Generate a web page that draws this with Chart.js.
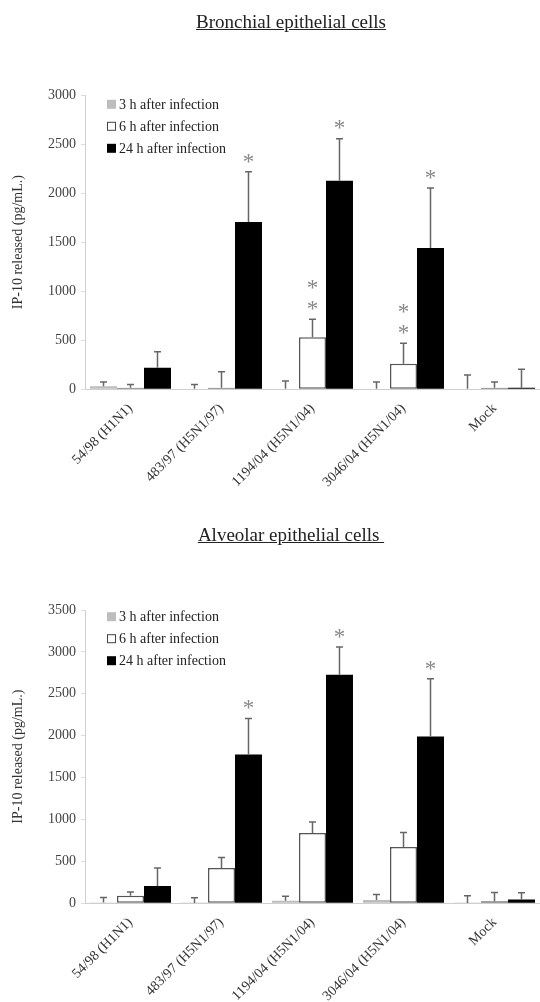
<!DOCTYPE html>
<html><head><meta charset="utf-8">
<script src="https://cdn.jsdelivr.net/npm/chart.js@4.4.1/dist/chart.umd.min.js"></script>
<style>
html,body{margin:0;padding:0;background:#fff;width:540px;height:1002px;overflow:hidden;}
.wrap{position:absolute;left:0;width:540px;height:501px;}
.ttl{position:absolute;font-family:"Liberation Serif",serif;font-size:19px;color:#222;text-decoration:underline;white-space:pre;transform:translateX(-50%);line-height:1;}
</style></head><body>
<div class="wrap" style="top:0"><canvas id="c1" width="540" height="501"></canvas></div>
<div class="wrap" style="top:501px"><canvas id="c2" width="540" height="501"></canvas></div>
<div class="ttl" style="left:291px;top:12px">Bronchial epithelial cells</div>
<div class="ttl" style="left:291px;top:525px">Alveolar epithelial cells </div>
<script>
// ---- data ----
const categories = ['54/98 (H1N1)', '483/97 (H5N1/97)', '1194/04 (H5N1/04)', '3046/04 (H5N1/04)', 'Mock'];
const seriesLabels = ['3 h after infection', '6 h after infection', '24 h after infection'];
const yTitle = 'IP-10 released (pg/mL.)';

// Bronchial epithelial cells
const bronchial3h = [30, 5, 5, 5, 5];
const bronchial3hErr = [45, 45, 80, 70, 140];
const bronchial6h = [15, 15, 530, 260, 15];
const bronchial6hErr = [35, 165, 185, 210, 60];
const bronchial24h = [220, 1705, 2125, 1440, 15];
const bronchial24hErr = [163, 513, 430, 613, 190];
const bronchialStars3h = [0, 0, 0, 0, 0];
const bronchialStars6h = [0, 0, 2, 2, 0];
const bronchialStars24h = [0, 1, 1, 1, 0];
const bronchialTicksMax = 3000;

// Alveolar epithelial cells
const alveolar3h = [10, 5, 30, 40, 5];
const alveolar3hErr = [60, 60, 55, 65, 85];
const alveolar6h = [90, 422, 840, 672, 25];
const alveolar6hErr = [45, 125, 130, 172, 105];
const alveolar24h = [207, 1775, 2727, 1990, 45];
const alveolar24hErr = [213, 430, 330, 690, 80];
const alveolarStars3h = [0, 0, 0, 0, 0];
const alveolarStars6h = [0, 0, 0, 0, 0];
const alveolarStars24h = [0, 1, 1, 1, 0];
const alveolarTicksMax = 3500;

const tickStep = 500;
const serif = '"Liberation Serif", "Times New Roman", serif';

// ---- plugins ----
const errorBars = {
  id: 'errorBars',
  afterDatasetsDraw(chart) {
    const ctx = chart.ctx, y = chart.scales.y;
    chart.data.datasets.forEach((ds, i) => {
      const meta = chart.getDatasetMeta(i);
      meta.data.forEach((bar, j) => {
        const v = ds.data[j], e = ds.errors[j];
        const yTop = y.getPixelForValue(v + e);
        const yBar = y.getPixelForValue(v);
        ctx.save();
        ctx.strokeStyle = '#666';
        ctx.lineWidth = 1.5;
        ctx.beginPath();
        ctx.moveTo(bar.x, yBar);
        ctx.lineTo(bar.x, yTop);
        ctx.moveTo(bar.x - 3.5, yTop);
        ctx.lineTo(bar.x + 3.5, yTop);
        ctx.stroke();
        const n = ds.stars[j];
        ctx.fillStyle = '#888';
        ctx.font = '23px ' + serif;
        ctx.textAlign = 'center';
        ctx.textBaseline = 'alphabetic';
        for (let k = 0; k < n; k++) {
          const cy = yTop - 14 - k * 21;
          ctx.fillText('*', bar.x, cy + 10.8);
        }
        ctx.restore();
      });
    });
  }
};

const boxLegend = {
  id: 'boxLegend',
  afterDraw(chart, args, opts) {
    const ctx = chart.ctx, a = chart.chartArea;
    chart.data.datasets.forEach((ds, i) => {
      const cy = a.top + opts.top + i * 22;
      const x = a.left + 22;
      ctx.save();
      ctx.fillStyle = ds.backgroundColor;
      ctx.fillRect(x, cy - 4.5, 9, 9);
      if (ds.borderWidth) {
        ctx.strokeStyle = '#444';
        ctx.lineWidth = 1;
        ctx.strokeRect(x + 0.5, cy - 4, 8, 8);
      }
      ctx.fillStyle = '#222';
      ctx.font = '14px ' + serif;
      ctx.textBaseline = 'middle';
      ctx.textAlign = 'left';
      ctx.fillText(ds.label, x + 12, cy + 1);
      ctx.restore();
    });
  }
};

function makeChart(id, d3, e3, d6, e6, d24, e24, s3, s6, s24, yMax, topPad, xHeight, legendTop) {
  return new Chart(document.getElementById(id), {
    type: 'bar',
    data: {
      labels: categories,
      datasets: [
        { label: seriesLabels[0], data: d3, errors: e3, stars: s3, backgroundColor: '#bdbdbd', borderWidth: 0 },
        { label: seriesLabels[1], data: d6, errors: e6, stars: s6, backgroundColor: '#ffffff', borderColor: '#555', borderWidth: 1.5, borderSkipped: false },
        { label: seriesLabels[2], data: d24, errors: e24, stars: s24, backgroundColor: '#000000', borderWidth: 0 }
      ]
    },
    options: {
      responsive: false,
      animation: false,
      devicePixelRatio: 1,
      layout: { padding: { top: topPad, left: 0, right: 0, bottom: 0 } },
      datasets: { bar: { categoryPercentage: 0.89, barPercentage: 1.0 } },
      plugins: {
        legend: { display: false },
        tooltip: { enabled: false },
        boxLegend: { top: legendTop }
      },
      scales: {
        x: {
          ticks: { maxRotation: 45, minRotation: 45, autoSkip: false, font: { family: serif, size: 14 }, color: '#333', padding: 11 },
          grid: { display: false, drawTicks: false },
          border: { display: true, color: '#cfcfcf', width: 1 },
          afterFit(s) { s.height = xHeight; }
        },
        y: {
          min: 0, max: yMax,
          ticks: { stepSize: tickStep, font: { family: serif, size: 14 }, color: '#444', padding: 5,
                   callback: (v) => String(v) },
          grid: { display: true, drawOnChartArea: false, drawTicks: true, tickLength: 4, color: '#ddd' },
          border: { display: true, color: '#cfcfcf', width: 1 },
          title: { display: true, text: yTitle, font: { family: serif, size: 14 }, color: '#333', padding: { top: 10, bottom: 0 } },
          afterFit(s) { s.width = 85; }
        }
      }
    },
    plugins: [errorBars, boxLegend]
  });
}

makeChart('c1', bronchial3h, bronchial3hErr, bronchial6h, bronchial6hErr, bronchial24h, bronchial24hErr,
  bronchialStars3h, bronchialStars6h, bronchialStars24h, bronchialTicksMax, 95, 501 - 389.3, 9.3);
makeChart('c2', alveolar3h, alveolar3hErr, alveolar6h, alveolar6hErr, alveolar24h, alveolar24hErr,
  alveolarStars3h, alveolarStars6h, alveolarStars24h, alveolarTicksMax, 109, 501 - 402.3, 6.7);
</script>
</body></html>
